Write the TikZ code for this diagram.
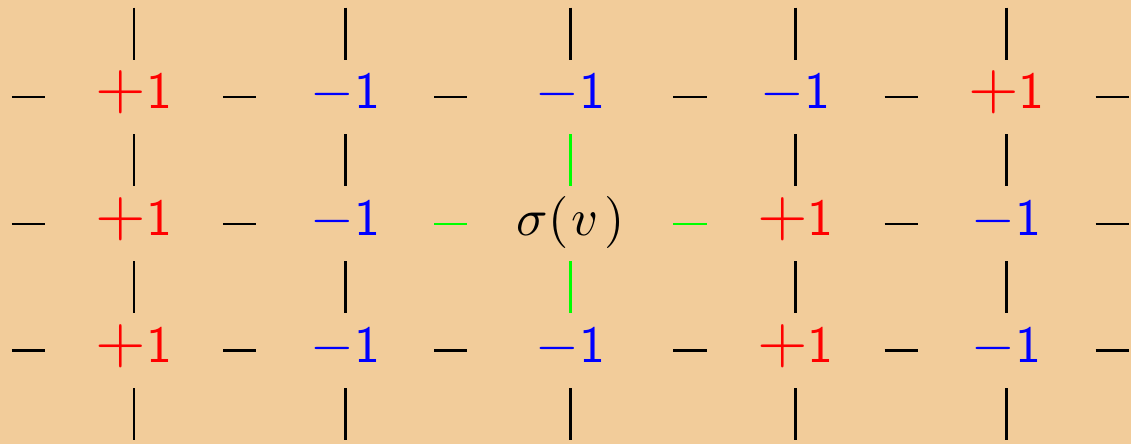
\documentclass[tikz,border=0pt]{standalone}
\usepackage{xcolor}
\usepackage{graphicx}
\usepackage{tikz}
\usetikzlibrary{positioning}

\definecolor{sand}{HTML}{F2CC9A}
\newcommand{\plusone}{\scalebox{1.25}{$+$}\textsf{1}}
\newcommand{\minusone}{\scalebox{1.08}{$-$}\textsf{1}}

\begin{document}
\begin{tikzpicture}[
      node distance=10pt and 6.4pt,
      spin/.style={inner sep=0pt, outer sep=0pt, minimum width=34.2pt, minimum height=14.4pt, text height=6.9pt, text depth=2.3pt},
      wide/.style={spin, minimum width=39.6pt},
      up/.style={spin, text=red},
      dn/.style={spin, text=blue},
      bond/.style={line width=0.5pt},
      hot/.style={bond, draw=green}
    ]
    \path[use as bounding box, fill=sand] (0,0) rectangle (217.5pt,-85.4pt);
    \node[up] (s-1-1) at (25.8pt,-18.65pt) {\plusone};
    \node[dn, right=of s-1-1] (s-1-2) {\minusone};
    \node[dn, wide, right=of s-1-2] (s-1-3) {\minusone};
    \node[dn, right=of s-1-3] (s-1-4) {\minusone};
    \node[up, right=of s-1-4] (s-1-5) {\plusone};
    \node[up, below=of s-1-1] (s-2-1) {\plusone};
    \node[dn, right=of s-2-1] (s-2-2) {\minusone};
    \node[wide, right=of s-2-2] (s-2-3) {$\sigma(\mkern1mu v\mkern2mu)$};
    \node[up, right=of s-2-3] (s-2-4) {\plusone};
    \node[dn, right=of s-2-4] (s-2-5) {\minusone};
    \node[up, below=of s-2-1] (s-3-1) {\plusone};
    \node[dn, right=of s-3-1] (s-3-2) {\minusone};
    \node[dn, wide, right=of s-3-2] (s-3-3) {\minusone};
    \node[up, right=of s-3-3] (s-3-4) {\plusone};
    \node[dn, right=of s-3-4] (s-3-5) {\minusone};
    \foreach \r in {1,2,3} {
      \coordinate[left=of s-\r-1] (w-\r);
      \coordinate[right=of s-\r-5] (e-\r);
      \draw[bond] (w-\r) -- (s-\r-1);
      \draw[bond] (s-\r-5) -- (e-\r);
    }
    \foreach \c in {1,...,5} {
      \coordinate[above=of s-1-\c] (n-\c);
      \coordinate[below=of s-3-\c] (b-\c);
      \draw[bond] (n-\c) -- (s-1-\c);
      \draw[bond] (s-3-\c) -- (b-\c);
    }
    \foreach \r in {1,3}
      \foreach \c [count=\d from 2] in {1,...,4}
        \draw[bond] (s-\r-\c) -- (s-\r-\d);
    \foreach \c in {1,2,4,5} {
      \draw[bond] (s-1-\c) -- (s-2-\c);
      \draw[bond] (s-2-\c) -- (s-3-\c);
    }
    \draw[bond] (s-2-1) -- (s-2-2);
    \draw[bond] (s-2-4) -- (s-2-5);
    \draw[hot] (s-2-2) -- (s-2-3);
    \draw[hot] (s-2-3) -- (s-2-4);
    \draw[hot] (s-1-3) -- (s-2-3);
    \draw[hot] (s-2-3) -- (s-3-3);
  \end{tikzpicture}
\end{document}
